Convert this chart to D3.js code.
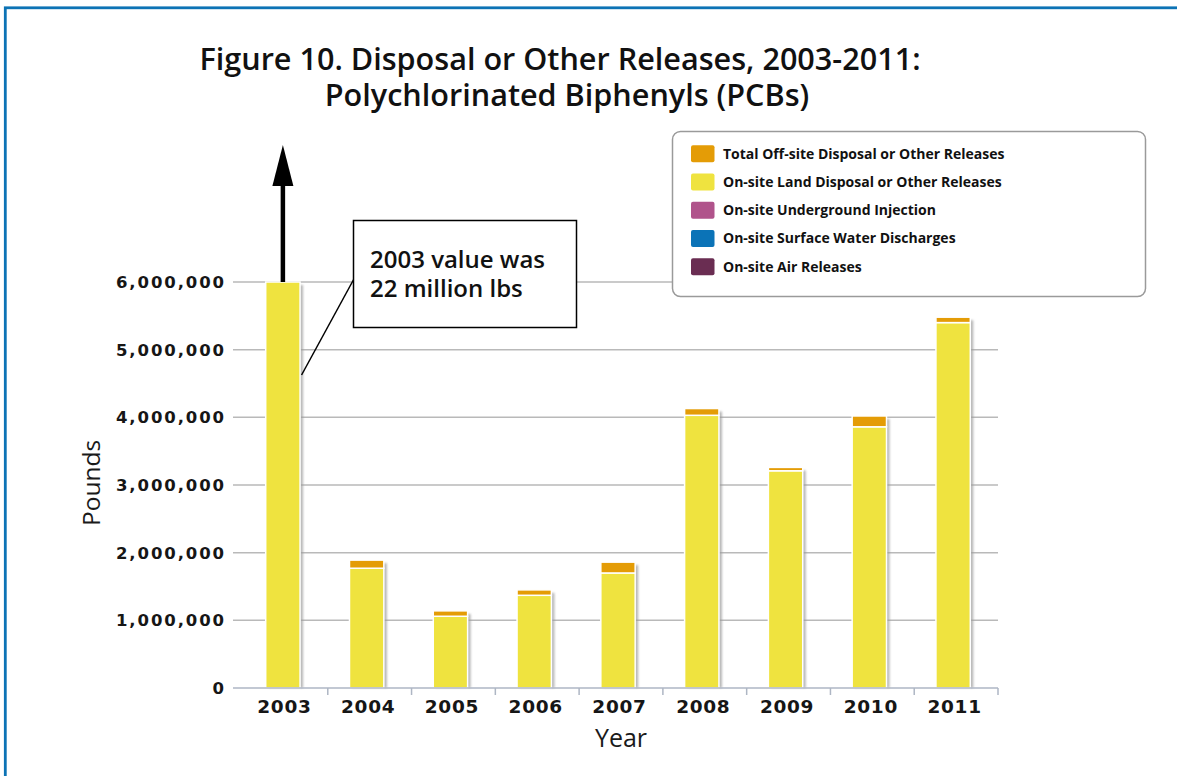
<!DOCTYPE html>
<html>
<head>
<meta charset="utf-8">
<script src="https://cdn.jsdelivr.net/npm/d3@7"></script>
<style>
  body { margin: 0; background: #fff; }
  svg { display: block; }
</style>
</head>
<body>
<div id="chart"></div>
<script>
// values (pounds)
const years = ["2003", "2004", "2005", "2006", "2007", "2008", "2009", "2010", "2011"];
const airReleases = [0, 0, 0, 0, 0, 0, 0, 0, 0];
const surfaceWater = [0, 0, 0, 0, 0, 0, 0, 0, 0];
const undergroundInjection = [0, 0, 0, 0, 0, 0, 0, 0, 0];
const onSiteLand = [22000000, 1770000, 1060000, 1370000, 1700000, 4030000, 3210000, 3860000, 5400000];
const offSite = [0, 120000, 80000, 80000, 160000, 100000, 50000, 160000, 80000];
const yTicks = [0, 1000000, 2000000, 3000000, 4000000, 5000000, 6000000];

const seriesKeys = ["air", "surface", "underground", "land", "offsite"];
const seriesNames = {
    offsite: "Total Off-site Disposal or Other Releases",
    land: "On-site Land Disposal or Other Releases",
    underground: "On-site Underground  Injection",
    surface: "On-site Surface Water Discharges",
    air: "On-site Air Releases"
};
const colors = {
    offsite: "#e49c06",
    land: "#efe33f",
    underground: "#b0538b",
    surface: "#0b73b7",
    air: "#6a2d52"
};

const W = 1177, H = 776;
const plotLeft = 233, plotRight = 998, plotTop = 282, plotBottom = 688;

// table for d3.stack
const table = years.map((y, i) => ({
    year: y,
    air: airReleases[i],
    surface: surfaceWater[i],
    underground: undergroundInjection[i],
    land: onSiteLand[i],
    offsite: offSite[i]
}));

const stacked = d3.stack().keys(seriesKeys)(table);

const svg = d3.select("#chart").append("svg")
    .attr("width", W)
    .attr("height", H);

// blue frame
svg.append("rect")
    .attr("x", 5.3).attr("y", 7.8)
    .attr("width", W + 20).attr("height", H + 20)
    .attr("fill", "#fff")
    .attr("stroke", "#0c73b5")
    .attr("stroke-width", 2.8);

// scales
const x = d3.scaleBand().domain(years).range([244, plotRight]);
const yScale = d3.scaleLinear().domain([0, 6000000]).range([plotBottom, plotTop]).clamp(true);

// shadow filter
const defs = svg.append("defs");
defs.append("filter").attr("id", "blur")
    .append("feGaussianBlur").attr("stdDeviation", 1);

// gridlines
svg.append("g").selectAll("line")
    .data(yTicks.filter(d => d > 0))
    .enter().append("line")
    .attr("x1", plotLeft).attr("x2", plotRight)
    .attr("y1", d => yScale(d)).attr("y2", d => yScale(d))
    .attr("stroke", "#b9b9b9")
    .attr("stroke-width", 1.5);

// y tick labels
svg.append("g").selectAll("text")
    .data(yTicks)
    .enter().append("text")
    .attr("x", 226)
    .attr("y", d => yScale(d) + 6)
    .attr("text-anchor", "end")
    .attr("font-family", "DejaVu Sans")
    .attr("font-weight", "bold")
    .attr("font-size", 16.5)
    .attr("letter-spacing", 1.9)
    .attr("fill", "#161616")
    .text(d => d3.format(",")(d));

const barW = x.bandwidth() * 0.41;
const barLeft = year => x(year) + (x.bandwidth() - barW) / 2 - 3;
const totalOf = d => d3.sum(seriesKeys, k => d[k]);

// bar shadows
svg.append("g").selectAll("rect")
    .data(table)
    .enter().append("rect")
    .attr("x", d => barLeft(d.year) + 3)
    .attr("y", d => yScale(totalOf(d)) + 3)
    .attr("width", barW)
    .attr("height", d => plotBottom - yScale(totalOf(d)) - 3)
    .attr("fill", "#9a9a9a")
    .attr("opacity", 0.7)
    .attr("filter", "url(#blur)");

// stacked bars
svg.append("g").selectAll("g")
    .data(stacked)
    .enter().append("g")
    .attr("fill", d => colors[d.key])
    .selectAll("rect")
    .data(d => d.filter(p => p[1] > p[0]))
    .enter().append("rect")
    .attr("x", d => barLeft(d.data.year))
    .attr("y", d => yScale(d[1]))
    .attr("width", barW)
    .attr("height", d => yScale(d[0]) - yScale(d[1]))
    .attr("stroke", "#fff")
    .attr("stroke-width", 1.5);

// x axis
const xAxis = svg.append("g");
xAxis.append("line")
    .attr("x1", plotLeft).attr("x2", plotRight)
    .attr("y1", plotBottom).attr("y2", plotBottom)
    .attr("stroke", "#aeb6c4")
    .attr("stroke-width", 1.5);
xAxis.selectAll(".tick")
    .data(years.slice(1).concat(["end"]))
    .enter().append("line")
    .attr("x1", d => d === "end" ? plotRight : x(d))
    .attr("x2", d => d === "end" ? plotRight : x(d))
    .attr("y1", plotBottom).attr("y2", plotBottom + 7)
    .attr("stroke", "#aeb6c4")
    .attr("stroke-width", 1.5);
xAxis.selectAll("text")
    .data(years)
    .enter().append("text")
    .attr("x", d => x(d) + x.bandwidth() / 2 - 1.5)
    .attr("y", 713)
    .attr("text-anchor", "middle")
    .attr("font-family", "DejaVu Sans")
    .attr("font-weight", "bold")
    .attr("font-size", 18.5)
    .attr("letter-spacing", 0.7)
    .attr("fill", "#161616")
    .text(d => d);

// axis titles
svg.append("text")
    .attr("x", 621).attr("y", 747)
    .attr("text-anchor", "middle")
    .attr("font-family", "Open Sans")
    .attr("font-size", 25)
    .attr("fill", "#1a1a1a")
    .text("Year");

svg.append("text")
    .attr("transform", "translate(100,483) rotate(-90)")
    .attr("text-anchor", "middle")
    .attr("font-family", "Open Sans")
    .attr("font-size", 24.5)
    .attr("fill", "#1a1a1a")
    .text("Pounds");

// title, two lines
const titleLines = [
    { text: "Figure 10. Disposal or Other Releases, 2003-2011:", x: 560, y: 70 },
    { text: "Polychlorinated Biphenyls (PCBs)", x: 567, y: 106 }
];
svg.append("g").selectAll("text")
    .data(titleLines)
    .enter().append("text")
    .attr("x", d => d.x).attr("y", d => d.y)
    .attr("text-anchor", "middle")
    .attr("font-family", "Open Sans")
    .attr("font-weight", 600)
    .attr("font-size", 30.6)
    .attr("fill", "#111")
    .text(d => d.text);

// arrow showing the 2003 bar runs off the scale
const arrowX = barLeft("2003") + barW / 2;
svg.append("line")
    .attr("x1", arrowX).attr("x2", arrowX)
    .attr("y1", yScale(6000000)).attr("y2", 182)
    .attr("stroke", "#000")
    .attr("stroke-width", 4.5);
svg.append("path")
    .attr("d", `M${arrowX},145 L${arrowX - 10.5},186 L${arrowX + 10.5},186 Z`)
    .attr("fill", "#000");

// callout
svg.append("line")
    .attr("x1", 355).attr("y1", 277)
    .attr("x2", barLeft("2003") + barW + 1.5).attr("y2", 375)
    .attr("stroke", "#000")
    .attr("stroke-width", 1.5);
svg.append("rect")
    .attr("x", 353.5).attr("y", 220.5)
    .attr("width", 223).attr("height", 107)
    .attr("fill", "#fff")
    .attr("stroke", "#000")
    .attr("stroke-width", 1.5);
const noteLines = ["2003 value was", "22 million lbs"];
svg.append("g").selectAll("text")
    .data(noteLines)
    .enter().append("text")
    .attr("x", 370)
    .attr("y", (d, i) => 268 + i * 29)
    .attr("font-family", "Open Sans")
    .attr("font-weight", 600)
    .attr("font-size", 24)
    .attr("fill", "#111")
    .text(d => d);

// legend
const legend = svg.append("g");
legend.append("rect")
    .attr("x", 672.5).attr("y", 131.5)
    .attr("width", 473).attr("height", 165)
    .attr("rx", 8)
    .attr("fill", "#fff")
    .attr("stroke", "#9a9a9a")
    .attr("stroke-width", 1.5);
const legendKeys = seriesKeys.slice().reverse();
const item = legend.selectAll(".item")
    .data(legendKeys)
    .enter().append("g")
    .attr("transform", (d, i) => `translate(691,${153.7 + i * 28.25})`);
item.append("rect")
    .attr("x", 0).attr("y", -8.5)
    .attr("width", 23.5).attr("height", 17)
    .attr("rx", 2)
    .attr("fill", d => colors[d]);
item.append("text")
    .attr("x", 32).attr("y", 5)
    .attr("font-family", "Open Sans")
    .attr("font-weight", 700)
    .attr("font-size", 14)
    .attr("fill", "#111")
    .text(d => seriesNames[d]);
</script>
</body>
</html>
